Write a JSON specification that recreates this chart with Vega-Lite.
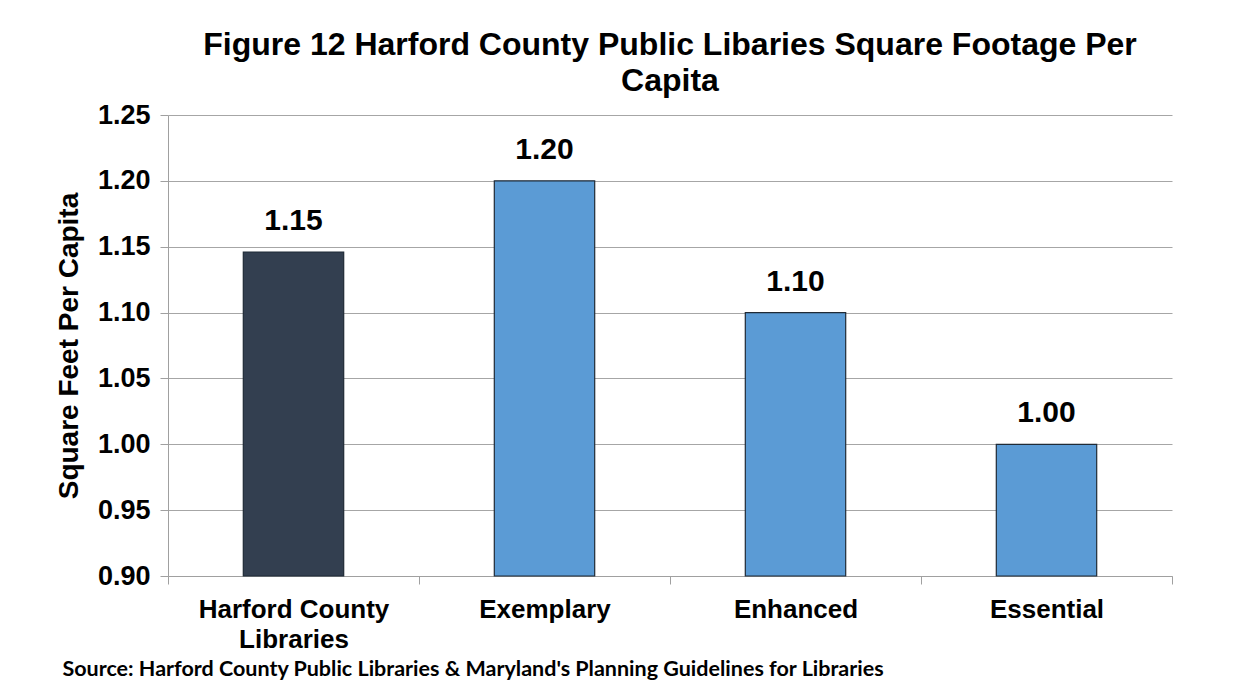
{
  "$schema": "https://vega.github.io/schema/vega-lite/v6.json",
  "width": 1004,
  "height": 461,
  "autosize": {"type": "none"},
  "padding": {"left": 168, "top": 115, "right": 76, "bottom": 104},
  "background": "white",
  "data": {"values": [
    {"category": "Harford County Libraries", "value": 1.146, "group": "Harford"},
    {"category": "Exemplary", "value": 1.20, "group": "Standard"},
    {"category": "Enhanced", "value": 1.10, "group": "Standard"},
    {"category": "Essential", "value": 1.00, "group": "Standard"}
  ]},
  "title": {
    "text": ["Figure 12 Harford County Public Libaries Square Footage Per", "Capita"],
    "font": "Liberation Sans",
    "fontSize": 32,
    "fontWeight": "bold",
    "lineHeight": 36,
    "color": "black",
    "anchor": "middle",
    "frame": "group",
    "offset": 3
  },
  "config": {
    "view": {"stroke": null},
    "font": "Liberation Sans"
  },
  "encoding": {
    "x": {
      "field": "category",
      "type": "nominal",
      "sort": null,
      "scale": {"paddingInner": 0, "paddingOuter": 0},
      "axis": {
        "title": "Source: Harford County Public Libraries & Maryland's Planning Guidelines for Libraries",
        "titleFont": "Lato",
        "titleFontSize": 21.5,
        "titleFontWeight": "bold",
        "titleColor": "black",
        "titleAnchor": "start",
        "titleAlign": "left",
        "titleX": -106,
        "titleY": 99,
        "titleBaseline": "alphabetic",
        "titleLimit": 1200,
        "labelAngle": 0,
        "labelFontSize": 26,
        "labelFontWeight": "bold",
        "labelColor": "black",
        "labelPadding": 12,
        "labelLineHeight": 30,
        "labelLimit": 400,
        "labelExpr": "datum.value == 'Harford County Libraries' ? ['Harford County', 'Libraries'] : datum.value",
        "tickBand": "extent",
        "tickSize": 8,
        "tickColor": "#A0A0A0",
        "domainColor": "#A0A0A0",
        "grid": false
      }
    },
    "y": {
      "field": "value",
      "type": "quantitative",
      "scale": {"domain": [0.9, 1.25], "nice": false, "zero": false},
      "axis": {
        "title": "Square Feet Per Capita",
        "titleFontSize": 28,
        "titleFontWeight": "bold",
        "titleColor": "black",
        "titlePadding": 14,
        "values": [0.9, 0.95, 1.0, 1.05, 1.1, 1.15, 1.2, 1.25],
        "format": ".2f",
        "labelFontSize": 27,
        "labelFontWeight": "bold",
        "labelColor": "black",
        "labelPadding": 10,
        "tickSize": 8,
        "tickColor": "#A0A0A0",
        "domainColor": "#A0A0A0",
        "gridColor": "#A6A6A6",
        "grid": true
      }
    }
  },
  "layer": [
    {
      "mark": {"type": "bar", "width": {"band": 0.4}, "stroke": "#1F2A36", "strokeWidth": 1.2},
      "encoding": {
        "y2": {"datum": 0.9},
        "color": {
          "field": "group",
          "type": "nominal",
          "scale": {"domain": ["Harford", "Standard"], "range": ["#333F50", "#5B9BD5"]},
          "legend": null
        }
      }
    },
    {
      "mark": {"type": "text", "baseline": "alphabetic", "dy": -22, "fontSize": 30, "fontWeight": "bold", "color": "black"},
      "encoding": {
        "text": {"field": "value", "type": "quantitative", "format": ".2f"}
      }
    }
  ]
}
